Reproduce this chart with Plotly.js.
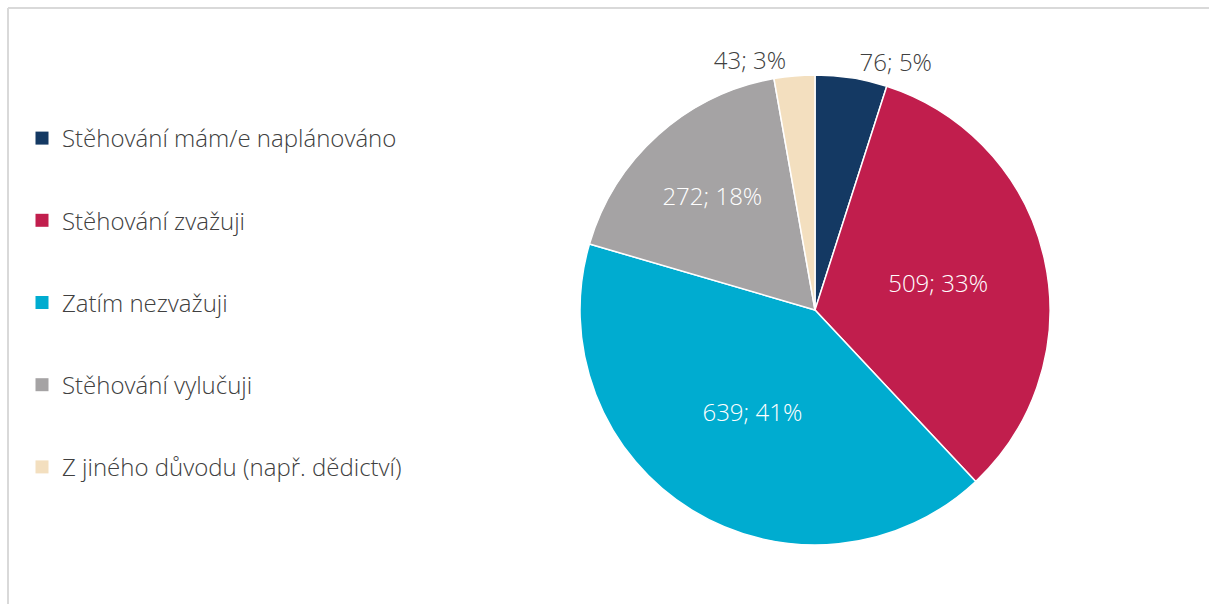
<!DOCTYPE html>
<html>
<head>
<meta charset="utf-8">
<script src="https://cdn.plot.ly/plotly-3.0.1.min.js"></script>
<style>html,body{margin:0;padding:0;background:#fff;}#chart{width:1209px;height:604px;}</style>
</head>
<body>
<div id="chart"></div>
<script>
const categories = ["Stěhování mám/e naplánováno", "Stěhování zvažuji", "Zatím nezvažuji", "Stěhování vylučuji", "Z jiného důvodu (např. dědictví)"];
const counts = [76, 509, 639, 272, 43];
const percents = [5, 33, 41, 18, 3];
const colors = ["#143963", "#c11e4d", "#00acd0", "#a5a3a4", "#f3dfbf"];

const W = 1209, H = 604;
const FONT = "Open Sans";
const pie = {
  type: "pie",
  labels: categories,
  values: counts,
  customdata: percents,
  sort: false,
  direction: "clockwise",
  rotation: 0,
  marker: {colors: colors, line: {color: "#ffffff", width: 1.5}},
  texttemplate: "%{value}; %{customdata}%",
  textposition: ["outside", "inside", "inside", "inside", "outside"],
  insidetextorientation: "horizontal",
  outsidetextfont: {family: FONT, size: 24, weight: 300, color: "#404040"},
  insidetextfont: {family: FONT, size: 24, weight: 300, color: "#ffffff"},
  hoverinfo: "label+value+percent",
  showlegend: false,
  domain: {x: [580 / W, 1050 / W], y: [1 - 545 / H, 1 - 75 / H]}
};

const legendTraces = categories.map((c, i) => ({
  type: "scatter",
  mode: "markers",
  x: [null], y: [null],
  name: c,
  legendgroup: "g" + i,
  marker: {symbol: "square", size: 13, color: colors[i]},
  showlegend: true,
  hoverinfo: "skip"
}));

const layout = {
  width: W, height: H,
  margin: {l: 0, r: 0, t: 0, b: 0},
  paper_bgcolor: "#ffffff",
  plot_bgcolor: "#ffffff",
  font: {family: FONT, color: "#404040"},
  xaxis: {visible: false},
  yaxis: {visible: false},
  showlegend: true,
  legend: {
    x: 22 / W, y: 1 - 116 / H, xanchor: "left", yanchor: "top",
    font: {family: FONT, size: 24, weight: 300, color: "#404040"},
    tracegroupgap: 48,
    traceorder: "grouped",
    bgcolor: "rgba(0,0,0,0)"
  },
  shapes: [
    {type: "line", xref: "paper", yref: "paper", x0: 8 / W, x1: 1, y0: 1 - 8 / H, y1: 1 - 8 / H, line: {color: "#d9d9d9", width: 2}},
    {type: "line", xref: "paper", yref: "paper", x0: 8 / W, x1: 8 / W, y0: 1 - 8 / H, y1: 0, line: {color: "#d9d9d9", width: 2}}
  ]
};

Plotly.newPlot("chart", [pie].concat(legendTraces), layout, {displayModeBar: false, staticPlot: true});
</script>
</body>
</html>
